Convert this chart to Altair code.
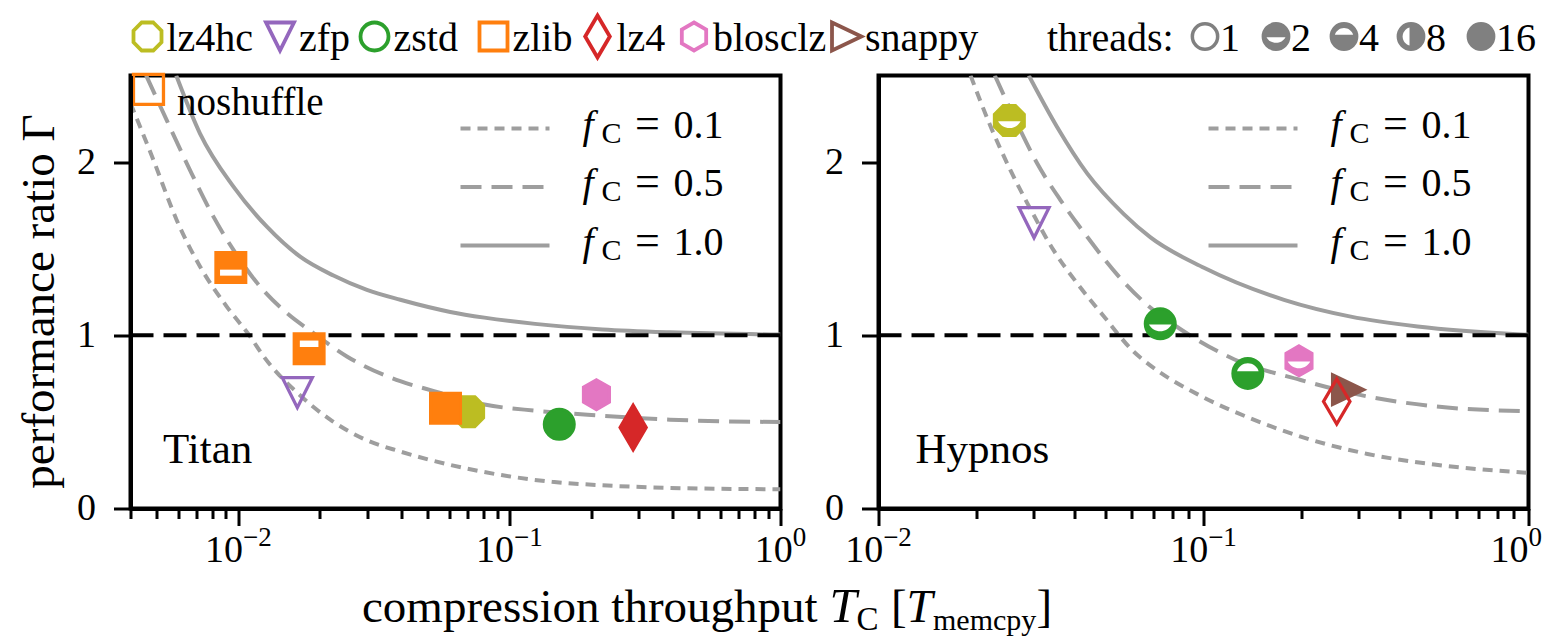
import altair as alt
import pandas as pd

FONT = "Liberation Serif"
GRAY = "#9e9e9e"
TGRAY = "#808080"

# ---------------- data ----------------
compressors = ["lz4hc", "zfp", "zstd", "zlib", "lz4", "blosclz", "snappy"]
compressor_colors = ["#bcbd22", "#9467bd", "#2ca02c", "#ff7f0e", "#d62728", "#e377c2", "#8c564b"]
thread_counts = ["1", "2", "4", "8", "16"]

titan_compressor = ["zlib", "zlib", "zlib", "zfp", "lz4hc", "zlib", "zstd", "blosclz", "lz4"]
titan_threads = [1, 2, 4, 1, 16, 16, 16, 16, 16]
titan_throughput = [0.00466, 0.00938, 0.01824, 0.0165, 0.0707, 0.0581, 0.1527, 0.2094, 0.286]
titan_ratio = [2.42, 1.392, 0.922, 0.669, 0.559, 0.579, 0.486, 0.657, 0.468]

hypnos_compressor = ["lz4hc", "zfp", "zstd", "zstd", "blosclz", "snappy", "lz4"]
hypnos_threads = [2, 1, 2, 4, 2, 16, 1]
hypnos_throughput = [0.02527, 0.0301, 0.0736, 0.1369, 0.1967, 0.2773, 0.257]
hypnos_ratio = [2.240, 1.650, 1.066, 0.780, 0.853, 0.686, 0.618]

fc_values = ["0.1", "0.5", "1.0"]

titan_f01_T = [0.004, 0.00486, 0.00592, 0.00722, 0.00906, 0.01105, 0.01237, 0.01647, 0.02182,
               0.02937, 0.03957, 0.0608, 0.0934, 0.1435, 0.2203, 0.390, 1.0]
titan_f01_G = [2.34, 2.012, 1.666, 1.397, 1.166, 0.993, 0.880, 0.669, 0.513,
               0.398, 0.329, 0.251, 0.193, 0.154, 0.134, 0.119, 0.111]
titan_f05_T = [0.00457, 0.00544, 0.00663, 0.00809, 0.00959, 0.01203, 0.0151, 0.01892, 0.02514,
               0.03957, 0.0527, 0.0809, 0.1243, 0.2082, 0.391, 1.0]
titan_f05_G = [2.50, 2.242, 1.954, 1.685, 1.493, 1.281, 1.128, 1.013, 0.878,
               0.735, 0.678, 0.600, 0.565, 0.538, 0.513, 0.499]
titan_f10_T = [0.0059, 0.00722, 0.00959, 0.01274, 0.0169, 0.02243, 0.0298, 0.03957, 0.0605,
               0.0809, 0.1243, 0.2203, 0.391, 1.0]
titan_f10_G = [2.50, 2.165, 1.858, 1.627, 1.454, 1.345, 1.262, 1.205, 1.135,
               1.102, 1.066, 1.034, 1.017, 1.004]

hypnos_f01_T = [0.0192, 0.02208, 0.02544, 0.02933, 0.0346, 0.04086, 0.04932, 0.06104, 0.06871,
                0.098, 0.1397, 0.1991, 0.3196, 0.5127, 1.0]
hypnos_f01_G = [2.50, 2.21, 1.955, 1.73, 1.49, 1.30, 1.11, 0.905, 0.825,
                0.65, 0.52, 0.415, 0.315, 0.254, 0.206]
hypnos_f05_T = [0.0228, 0.02669, 0.03076, 0.03629, 0.04385, 0.05426, 0.06713, 0.085, 0.1241,
                0.1991, 0.3196, 0.5127, 1.0]
hypnos_f05_G = [2.50, 2.223, 1.993, 1.781, 1.569, 1.35, 1.175, 1.035, 0.862,
                0.742, 0.647, 0.590, 0.561]
hypnos_f10_T = [0.0290, 0.03544, 0.04385, 0.05686, 0.0687, 0.1003, 0.1769, 0.2839, 0.4557, 1.0]
hypnos_f10_G = [2.50, 2.203, 1.935, 1.70, 1.565, 1.39, 1.205, 1.108, 1.051, 1.003]

titan_ticks = [0.004, 0.005, 0.006, 0.007, 0.008, 0.009, 0.01, 0.02, 0.03, 0.04, 0.05, 0.06,
               0.07, 0.08, 0.09, 0.1, 0.2, 0.3, 0.4, 0.5, 0.6, 0.7, 0.8, 0.9, 1.0]
hypnos_ticks = [0.01, 0.02, 0.03, 0.04, 0.05, 0.06, 0.07, 0.08, 0.09, 0.1, 0.2, 0.3, 0.4,
                0.5, 0.6, 0.7, 0.8, 0.9, 1.0]
decades = [0.01, 0.1, 1.0]
decade_exps = ["\u22122", "\u22121", "0"]

# ---------------- styles ----------------
SHAPES = {
    "lz4hc": "M0.414,-1L1,-0.414L1,0.414L0.414,1L-0.414,1L-1,0.414L-1,-0.414L-0.414,-1Z",
    "zfp": "M-1,-1L1,-1L0,1Z",
    "zstd": "circle",
    "zlib": "square",
    "lz4": "M0,-1.5L0.88,0L0,1.5L-0.88,0Z",
    "blosclz": "M0,-1L0.87,-0.5L0.87,0.5L0,1L-0.87,0.5L-0.87,-0.5Z",
    "snappy": "M-1,-1L1.1,0L-1,1Z",
}
OVERLAY = {
    ("square", 2): "M-0.72,0.15H0.72V0.55H-0.72Z",
    ("square", 4): "M-0.62,-0.55H0.62V-0.12H-0.62Z",
    ("round", 2): "M-0.75,0.05H0.75A0.85,0.85 0 0 1 -0.75,0.05Z",
    ("round", 4): "M-0.72,-0.14H0.72A0.75,0.75 0 0 0 -0.72,-0.14Z",
    ("round", 8): "M-0.12,-0.72V0.72A0.75,0.75 0 0 1 -0.12,-0.72Z",
}
DASHES = {"0.1": [10, 7], "0.5": [21, 10], "1.0": None}
W, H = 650, 433
MAJOR = "datum.value == 0.01 || datum.value == 0.1 || datum.value == 1"
DUMMY = pd.DataFrame({"a": [0]})


def txt(s, x, y, size, italic=False, align="left", angle=None, color="black"):
    kw = dict(text=s, font=FONT, fontSize=size, align=align, baseline="alphabetic", color=color)
    if italic:
        kw["fontStyle"] = "italic"
    if angle is not None:
        kw["angle"] = angle
    return alt.Chart(DUMMY).mark_text(**kw).encode(x=alt.value(x), y=alt.value(y))


def sym(shape, x, y, size, color, filled, sw=3.5):
    kw = dict(shape=shape, size=size, opacity=1, strokeWidth=sw)
    if filled:
        kw.update(filled=True, fill=color, stroke=color)
    else:
        kw.update(filled=False, stroke=color)
    return alt.Chart(DUMMY).mark_point(**kw).encode(x=alt.value(x), y=alt.value(y))


def make_panel(comp, thr, T, G, curves, xmin, tick_vals, name, name_x, left):
    xs = alt.Scale(type="log", domain=[xmin, 1.0], nice=False)
    ys = alt.Scale(domain=[0, 2.5], nice=False, zero=False)
    xax = alt.Axis(values=tick_vals, labels=False, title=None, grid=False,
                   tickSize={"condition": {"test": MAJOR, "value": 17}, "value": 10},
                   tickWidth=3, tickColor="black", domainColor="black", domainWidth=4, zindex=1)
    yax = alt.Axis(values=[0, 1, 2], title=None, grid=False, tickSize=17, tickWidth=3,
                   tickColor="black", domainColor="black", domainWidth=4, labelFont=FONT,
                   labelFontSize=38, labelPadding=18, labelColor="black", format="d", zindex=1)

    def X():
        return alt.X("T:Q", scale=xs, axis=xax)

    def Y():
        return alt.Y("G:Q", scale=ys, axis=yax)

    layers = []
    for f in fc_values:
        Ts, Gs = curves[f]
        kw = dict(color=GRAY, strokeWidth=4, clip=True, interpolate="monotone")
        if DASHES[f]:
            kw["strokeDash"] = DASHES[f]
        layers.append(alt.Chart(pd.DataFrame({"T": Ts, "G": Gs})).mark_line(**kw)
                      .encode(x=X(), y=Y()))
    layers.append(alt.Chart(pd.DataFrame({"G": [1.0]}))
                  .mark_rule(color="black", strokeWidth=4, strokeDash=[23, 10]).encode(y=Y()))

    pts = pd.DataFrame({"compressor": comp, "threads": thr, "T": T, "G": G})
    pts["kind"] = ["square" if c == "zlib" else "round" for c in comp]
    shape_scale = alt.Scale(domain=compressors, range=[SHAPES[c] for c in compressors])
    color_scale = alt.Scale(domain=compressors, range=compressor_colors)
    filled = pts[pts.threads != 1]
    hollow = pts[pts.threads == 1]
    layers.append(alt.Chart(filled).mark_point(filled=True, size=900, strokeWidth=3, opacity=1)
                  .encode(x=X(), y=Y(),
                          shape=alt.Shape("compressor:N", scale=shape_scale, legend=None),
                          fill=alt.Fill("compressor:N", scale=color_scale, legend=None),
                          stroke=alt.Stroke("compressor:N", scale=color_scale, legend=None)))
    for (kind, t), path in OVERLAY.items():
        sub = pts[(pts.threads == t) & (pts.kind == kind)]
        if len(sub):
            layers.append(alt.Chart(sub).mark_point(shape=path, filled=True, color="white",
                                                    size=900, strokeWidth=0, opacity=1)
                          .encode(x=X(), y=Y()))
    layers.append(alt.Chart(hollow).mark_point(filled=False, size=900, strokeWidth=3.3, opacity=1)
                  .encode(x=X(), y=Y(),
                          shape=alt.Shape("compressor:N", scale=shape_scale, legend=None),
                          stroke=alt.Stroke("compressor:N", scale=color_scale, legend=None)))

    # tick labels 10^k
    for d, e in zip(decades, decade_exps):
        if d < xmin:
            continue
        w10 = 38.0
        wexp = sum(0.564 if ch == "\u2212" else 0.5 for ch in e) * 27
        dx = w10 - (w10 + wexp) / 2
        if (not left) and d == 1.0:
            dx = 0.0  # keep the last label inside the page
        dd = pd.DataFrame({"T": [d]})
        layers.append(alt.Chart(dd).mark_text(text="10", font=FONT, fontSize=38, align="right",
                                              baseline="alphabetic", dx=dx, color="black")
                      .encode(x=X(), y=alt.value(H + 53)))
        layers.append(alt.Chart(dd).mark_text(text=e, font=FONT, fontSize=27, align="left",
                                              baseline="alphabetic", dx=dx, color="black")
                      .encode(x=X(), y=alt.value(H + 37)))

    # f_C legend
    rows = [53, 111.5, 170]
    for f, ry in zip(fc_values, rows):
        kw = dict(color=GRAY, strokeWidth=4)
        if DASHES[f]:
            kw["strokeDash"] = DASHES[f]
        layers.append(alt.Chart(DUMMY).mark_rule(**kw)
                      .encode(x=alt.value(330), x2=alt.value(419), y=alt.value(ry)))
        layers.append(txt("f", 452, ry + 9.3, 40, italic=True))
        layers.append(txt("C", 471, ry + 14, 30))
        layers.append(txt("=", 517, ry + 9.3, 44, align="center"))
        layers.append(txt(f, 543, ry + 9.3, 40))

    layers.append(txt(name, name_x, 387, 43))

    if left:
        layers.append(txt("noshuffle", 46.5, 39, 39))
        # y title
        layers.append(txt("performance ratio \u0393", -77, 226, 47, align="center", angle=270))
        # x title
        layers.append(txt("compression throughput", 231.5, 546, 47))
        layers.append(txt("T", 699, 546, 49, italic=True))
        layers.append(txt("C", 726, 554, 33))
        layers.append(txt("[", 760.5, 546, 47))
        layers.append(txt("T", 776, 546, 47, italic=True))
        layers.append(txt("memcpy", 802.5, 554, 30))
        layers.append(txt("]", 906, 546, 47))
        # top legend: compressors
        mk_x = [17, 149.5, 244, 363, 467, 563.5, 715.5]
        for c, col, mx in zip(compressors, compressor_colors, mk_x):
            layers.append(sym(SHAPES[c], mx, -39, 784, col, False, sw=3.8))
            layers.append(txt(c, mx + 19, -25, 40))
        # threads legend
        layers.append(txt("threads:", 916.5, -25, 40))
        th_x = [1074.5, 1145.5, 1213.5, 1280.5, 1350.5]
        th_overlay = {"2": OVERLAY[("round", 2)], "4": OVERLAY[("round", 4)],
                      "8": OVERLAY[("round", 8)]}
        for t, tx in zip(thread_counts, th_x):
            layers.append(sym("circle", tx, -39, 640, TGRAY, t != "1", sw=3.5))
            if t in th_overlay:
                layers.append(alt.Chart(DUMMY).mark_point(shape=th_overlay[t], filled=True,
                                                          color="white", size=640, strokeWidth=0,
                                                          opacity=1)
                              .encode(x=alt.value(tx), y=alt.value(-39)))
            layers.append(txt(t, tx + 15, -25, 40))

    return alt.layer(*layers).properties(width=W, height=H)


left = make_panel(titan_compressor, titan_threads, titan_throughput, titan_ratio,
                  {"0.1": (titan_f01_T, titan_f01_G), "0.5": (titan_f05_T, titan_f05_G),
                   "1.0": (titan_f10_T, titan_f10_G)},
                  0.004, titan_ticks, "Titan", 32.5, True)
right = make_panel(hypnos_compressor, hypnos_threads, hypnos_throughput, hypnos_ratio,
                   {"0.1": (hypnos_f01_T, hypnos_f01_G), "0.5": (hypnos_f05_T, hypnos_f05_G),
                    "1.0": (hypnos_f10_T, hypnos_f10_G)},
                   0.01, hypnos_ticks, "Hypnos", 37, False)

chart = (alt.hconcat(left, right, spacing=98, bounds="flush")
         .properties(padding={"left": 4.5, "top": -2.5, "right": 0, "bottom": 6},
                     background="white")
         .configure_view(stroke="black", strokeWidth=4))

chart.save("out.html", embed_options={"renderer": "svg", "actions": False})
